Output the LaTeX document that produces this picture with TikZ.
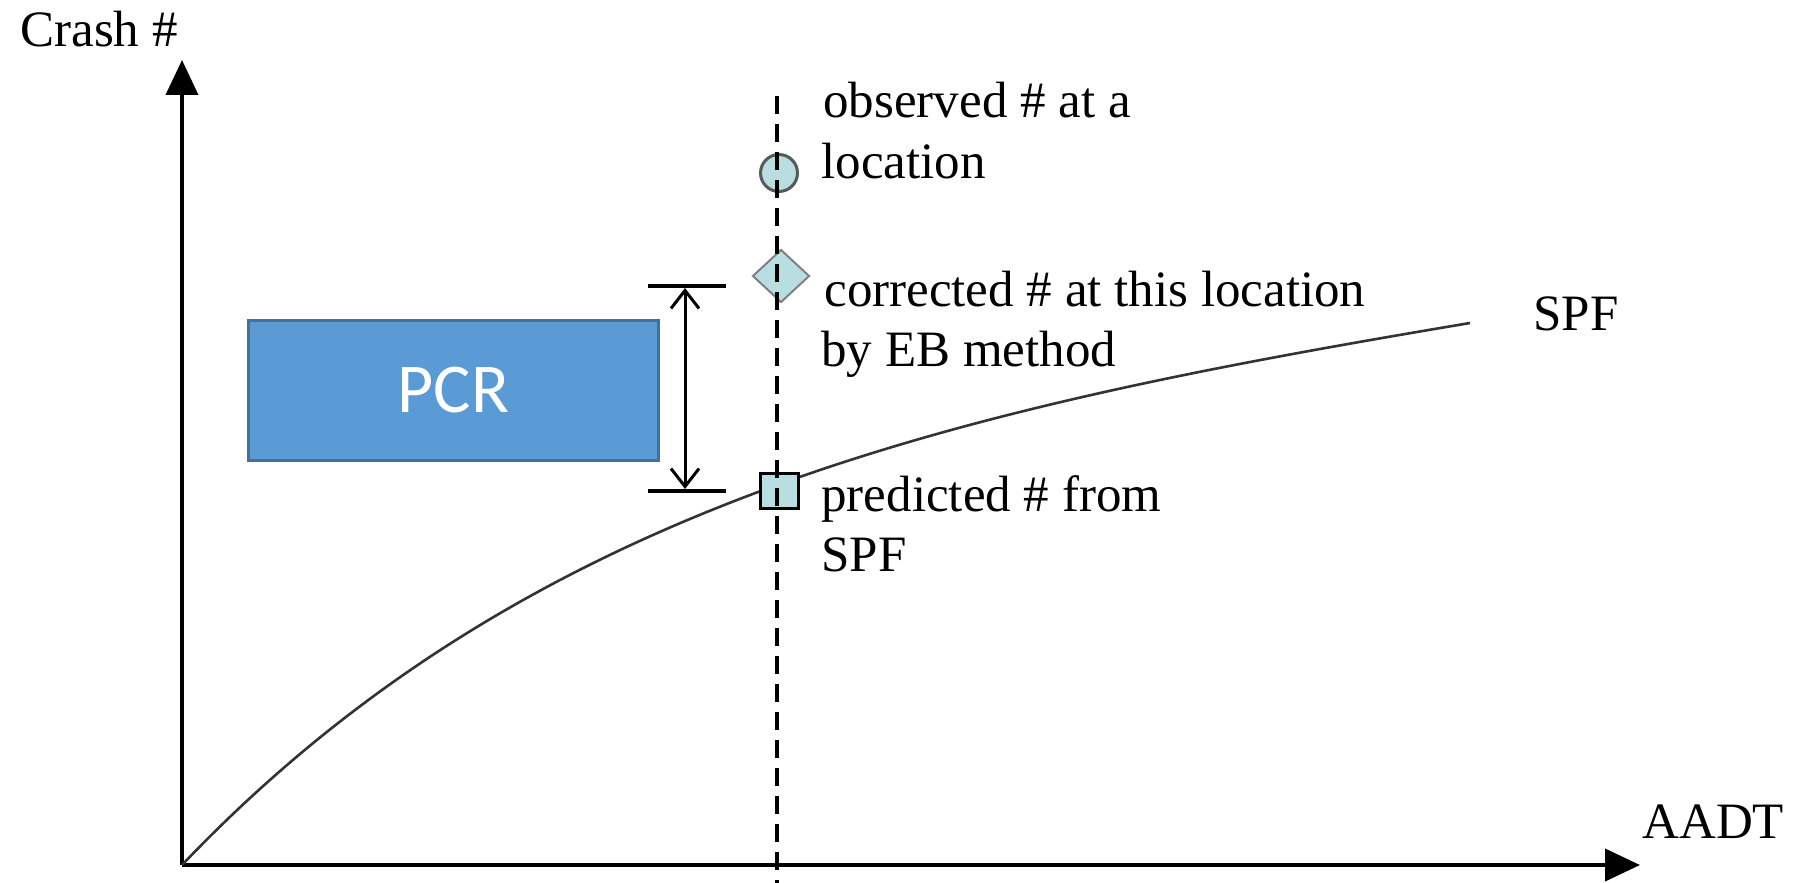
\documentclass[tikz,border=0pt]{standalone}
\usepackage{fontspec}
\setmainfont{Liberation Serif}
\newfontfamily\pcrfont{Carlito}
\usetikzlibrary{arrows.meta,shapes.geometric}
\definecolor{markfill}{RGB}{185,222,226}
\definecolor{boxfill}{RGB}{91,155,213}
\definecolor{boxedge}{RGB}{65,113,156}
\begin{document}
\begin{tikzpicture}[x=0.5pt,y=-0.5pt,
  lbl/.style={font=\fontsize{25.5}{30}\selectfont, inner sep=0pt, anchor=base west},
  axisline/.style={line width=2pt, -{Triangle[length=17.5pt,width=16pt]}},
  spfcurve/.style={line width=1.3pt, draw=black!80},
  marker/.style={fill=markfill, inner sep=0pt},
  tickline/.style={line width=1.6pt},
  gap/.style={line width=1.5pt, {Straight Barb[length=9pt,width=14pt]}-{Straight Barb[length=9pt,width=14pt]}},
  guide/.style={line width=2pt, dash pattern=on 9pt off 5pt}]
\useasboundingbox (0,0) rectangle (1799,883);

% axes
\coordinate (O) at (182,865);
\coordinate (ytip) at (182,60);
\coordinate (xtip) at (1640,865);
\draw[axisline] (O) -- (ytip);
\draw[axisline] (O) -- (xtip);
\node[lbl] (ylab) at (20,47) {Crash \#};
\node[lbl] (xlab) at (1642,838) {AADT};

% safety performance function
\coordinate (spfend) at (1470,323);
\draw[spfcurve] (O) .. controls (532,497.5) and (970,407) .. (spfend);
\node[lbl] (spf) at (1533,330) {SPF};

% PCR box
\node[draw=boxedge, fill=boxfill, line width=1.5pt, minimum width=205pt,
      minimum height=70pt, inner sep=0pt, text=white,
      font=\pcrfont\fontsize{35}{40}\selectfont] (pcr) at (453.5,390.5) {PCR};

% difference between corrected and predicted values
\coordinate (tl1) at (648,286);
\coordinate (tr1) at (726,286);
\coordinate (tl2) at (648,491);
\coordinate (tr2) at (726,491);
\coordinate (atop) at (685,288);
\coordinate (abot) at (685,489);
\draw[tickline] (tl1) -- (tr1);
\draw[tickline] (tl2) -- (tr2);
\draw[gap] (atop) -- (abot);

% markers
\node[marker, circle, draw=black!65, line width=1.5pt, minimum size=18.5pt] (obs) at (779,173) {};
\node[marker, diamond, draw=black!50, line width=1pt, minimum width=28.5pt, minimum height=26.5pt] (cor) at (781,276) {};
\node[marker, rectangle, draw=black, line width=1.5pt, minimum width=19pt, minimum height=17.5pt] (pred) at (779,491) {};

% vertical guide at the location
\coordinate (vtop) at (777,96);
\coordinate (vbot) at (777,883);
\draw[guide] (vtop) -- (vbot);

% marker labels
\node[lbl] (obs1) at (823,118) {observed \# at a};
\node[lbl] (obs2) at (821,178) {location};
\node[lbl] (cor1) at (824,306) {corrected \# at this location};
\node[lbl] (cor2) at (821,366) {by EB method};
\node[lbl] (pred1) at (821,511) {predicted \# from};
\node[lbl] (pred2) at (821,571) {SPF};
\end{tikzpicture}
\end{document}
